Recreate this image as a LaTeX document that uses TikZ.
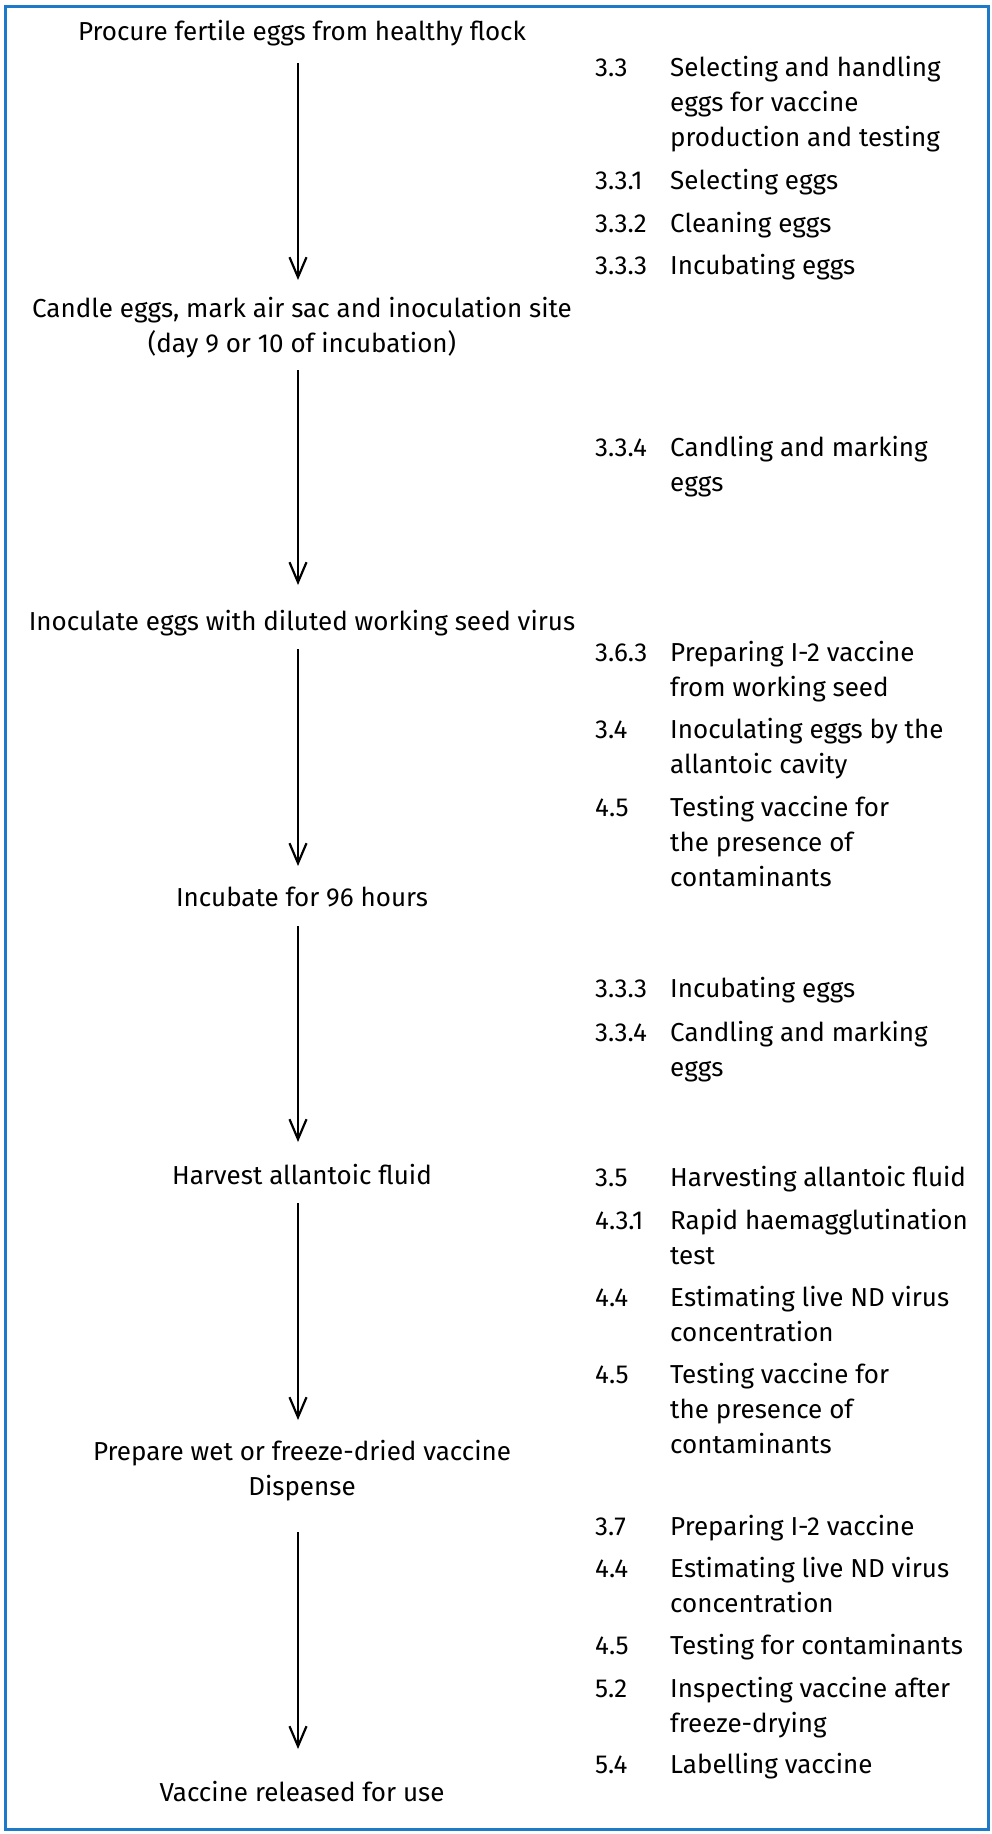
\documentclass[tikz,border=0pt]{standalone}
\usepackage{fontspec}
\setmainfont{Fira Sans}
\usetikzlibrary{arrows.meta}
\definecolor{frameblue}{RGB}{28,122,200}
\begin{document}
\begin{tikzpicture}[x=1pt, y=-1pt,
  txt/.style={font=\fontsize{26}{35}\selectfont, inner sep=0pt, anchor=base},
  stage/.style={txt},
  refnum/.style={txt, anchor=base west},
  reftext/.style={txt, anchor=base west},
  flow/.style={line width=2.2pt, -{Straight Barb[length=20pt, width=17pt]}}
]
\useasboundingbox (0,0) rectangle (992,1834);
\draw[frameblue, line width=3pt] (5,6) rectangle (988,1829);

% process steps (left column)
\node[stage] (procure) at (302,40) {Procure fertile eggs from healthy flock};
\node[stage] (candle) at (302,317) {\begin{tabular}[t]{@{}c@{}}Candle eggs, mark air sac and inoculation site\\(day 9 or 10 of incubation)\end{tabular}};
\node[stage] (inoculate) at (302,630) {Inoculate eggs with diluted working seed virus};
\node[stage] (incubate) at (302,906) {Incubate for 96 hours};
\node[stage] (harvest) at (302,1184) {Harvest allantoic fluid};
\node[stage] (prepare) at (302,1460) {\begin{tabular}[t]{@{}c@{}}Prepare wet or freeze-dried vaccine\\Dispense\end{tabular}};
\node[stage] (release) at (302,1801) {Vaccine released for use};

% arrows between steps
\draw[flow] ([shift={(-4,23)}]procure.base) -- ([shift={(-4,-37)}]candle.base);
\draw[flow] ([shift={(-4,53)}]candle.base) -- ([shift={(-4,-45)}]inoculate.base);
\draw[flow] ([shift={(-4,19)}]inoculate.base) -- ([shift={(-4,-40)}]incubate.base);
\draw[flow] ([shift={(-4,20)}]incubate.base) -- ([shift={(-4,-42)}]harvest.base);
\draw[flow] ([shift={(-4,19)}]harvest.base) -- ([shift={(-4,-40)}]prepare.base);
\draw[flow] ([shift={(-4,72)}]prepare.base) -- ([shift={(-4,-52)}]release.base);

% section references (right column)
\newcommand{\refitem}[4]{%
  \node[refnum] (#1n) at (595,#2) {#3};
  \node[reftext] (#1t) at (670,#2) {\begin{tabular}[t]{@{}l@{}}#4\end{tabular}};}

\refitem{ra}{76}{3.3}{Selecting and handling\\eggs for vaccine\\production and testing}
\refitem{rb}{189}{3.3.1}{Selecting eggs}
\refitem{rc}{232}{3.3.2}{Cleaning eggs}
\refitem{rd}{274}{3.3.3}{Incubating eggs}

\refitem{re}{456}{3.3.4}{Candling and marking\\eggs}

\refitem{rf}{661}{3.6.3}{Preparing I-2 vaccine\\from working seed}
\refitem{rg}{738}{3.4}{Inoculating eggs by the\\allantoic cavity}
\refitem{rh}{816}{4.5}{Testing vaccine for\\the presence of\\contaminants}

\refitem{ri}{997}{3.3.3}{Incubating eggs}
\refitem{rj}{1041}{3.3.4}{Candling and marking\\eggs}

\refitem{rk}{1186}{3.5}{Harvesting allantoic fluid}
\refitem{rl}{1229}{4.3.1}{Rapid haemagglutination\\test}
\refitem{rm}{1306}{4.4}{Estimating live ND virus\\concentration}
\refitem{rn}{1383}{4.5}{Testing vaccine for\\the presence of\\contaminants}

\refitem{ro}{1535}{3.7}{Preparing I-2 vaccine}
\refitem{rp}{1577}{4.4}{Estimating live ND virus\\concentration}
\refitem{rq}{1654}{4.5}{Testing for contaminants}
\refitem{rr}{1697}{5.2}{Inspecting vaccine after\\freeze-drying}
\refitem{rs}{1773}{5.4}{Labelling vaccine}
\end{tikzpicture}
\end{document}
